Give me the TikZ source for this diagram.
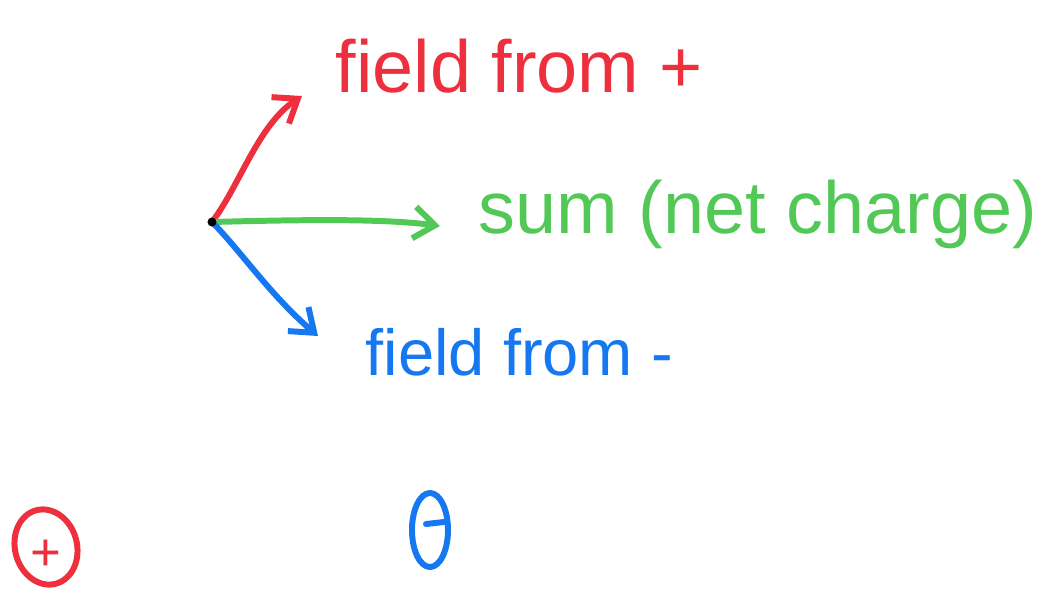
\documentclass[tikz,border=0pt]{standalone}
\usepackage{fontspec}
\setmainfont{Liberation Sans}
\usetikzlibrary{arrows.meta,shapes.geometric}
\definecolor{hred}{RGB}{238,48,62}
\definecolor{hgreen}{RGB}{82,200,86}
\definecolor{hblue}{RGB}{22,120,240}
\tikzset{
  pen/.style={line width=1.7pt, line cap=round, line join=round},
  vec/.style={pen, -{Straight Barb[length=6pt,width=9pt,line width=1.7pt]}},
  lbl/.style={anchor=west, inner sep=0pt}
}
\begin{document}
\begin{tikzpicture}[x=0.01cm,y=-0.01cm]
\useasboundingbox (0,0) rectangle (1047,590);
\coordinate (o) at (212,222);
\node[lbl, text=hred, font=\fontsize{21}{24}\selectfont] (tplus) at (335,66) {field from +};
\node[lbl, text=hgreen, font=\fontsize{21}{24}\selectfont] (tsum) at (478,214) {sum (net charge)};
\node[lbl, text=hblue, font=\fontsize{18.5}{22}\selectfont] (tminus) at (365,352) {field from -};
\coordinate (redtip) at (302,96);
\coordinate (greentip) at (440,226);
\coordinate (bluetip) at (318,336);
\draw[vec, hred] (o) .. controls (240,185) and (258,125) .. (redtip);
\draw[vec, hgreen] (o) .. controls (290,220) and (380,218) .. (greentip);
\draw[vec, hblue] (o) .. controls (240,250) and (270,295) .. (bluetip);
\fill[black] (o) circle (4.5);
% charges
\node[pen, draw=hred, ellipse, minimum width=0.62cm, minimum height=0.76cm, inner sep=0pt, rotate=15] (qplus) at (46,547) {};
\node[text=hred, font=\fontsize{15}{17}\selectfont] (qplustext) at (46,555) {+};
\node[pen, draw=hblue, ellipse, minimum width=0.36cm, minimum height=0.74cm, inner sep=0pt] (qminus) at (430,530) {};
\draw[pen, hblue] (qminus.center) ++(-4,-6) -- ++(18,-2);
\end{tikzpicture}
\end{document}
